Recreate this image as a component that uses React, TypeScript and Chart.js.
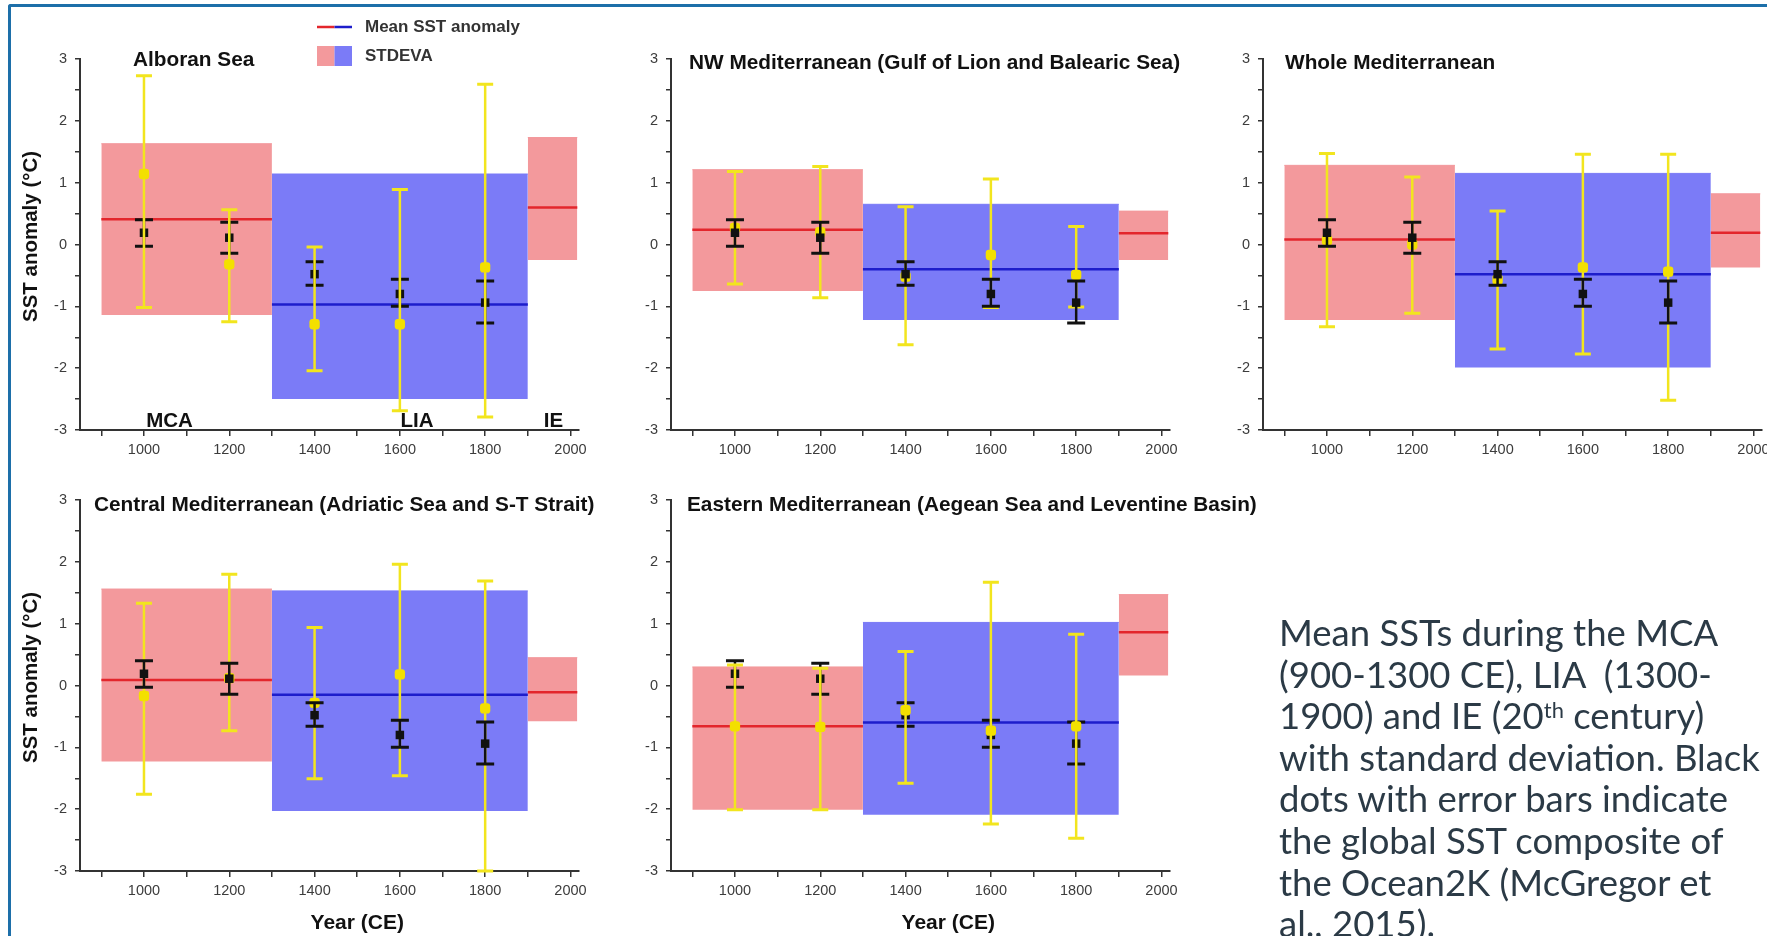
import React, { useEffect, useRef } from 'react';
import { Chart, registerables } from 'chart.js';

Chart.register(...registerables);

// ---------------- data ----------------
const SAMPLE_YEARS = [1000, 1200, 1400, 1600, 1800];
const PERIOD_NAMES = ['MCA', 'LIA', 'IE'];
const PERIOD_START = [900, 1300, 1900];
const PERIOD_END = [1300, 1900, 2016];
const PERIOD_LABEL_AT = [1060, 1640, 1960];

const X_TICKS = [900, 1000, 1100, 1200, 1300, 1400, 1500, 1600, 1700, 1800, 1900, 2000];
const Y_TICKS = [-3, -2.5, -2, -1.5, -1, -0.5, 0, 0.5, 1, 1.5, 2, 2.5, 3];

// Ocean2K global SST composite (black squares)
const GLOBAL_MEAN = [0.19, 0.11, -0.48, -0.8, -0.94];
const GLOBAL_LOW = [-0.03, -0.14, -0.66, -1.0, -1.27];
const GLOBAL_HIGH = [0.4, 0.36, -0.28, -0.56, -0.59];

// Alboran Sea
const ALBORAN_PERIOD_MEAN = [0.41, -0.97, 0.6];
const ALBORAN_PERIOD_HIGH = [1.63, 1.14, 1.73];
const ALBORAN_PERIOD_LOW = [-1.14, -2.5, -0.25];
const ALBORAN_MEAN = [1.14, -0.32, -1.29, -1.29, -0.37];
const ALBORAN_HIGH = [2.73, 0.56, -0.04, 0.89, 2.59];
const ALBORAN_LOW = [-1.02, -1.25, -2.04, -2.69, -2.79];

// NW Mediterranean
const NW_PERIOD_MEAN = [0.24, -0.4, 0.18];
const NW_PERIOD_HIGH = [1.21, 0.65, 0.54];
const NW_PERIOD_LOW = [-0.75, -1.22, -0.25];
const NW_MEAN = [0.27, 0.2, -0.52, -0.17, -0.49];
const NW_HIGH = [1.18, 1.26, 0.61, 1.06, 0.29];
const NW_LOW = [-0.64, -0.86, -1.62, -1.02, -1.01];

// Whole Mediterranean
const WHOLE_PERIOD_MEAN = [0.08, -0.48, 0.19];
const WHOLE_PERIOD_HIGH = [1.28, 1.15, 0.82];
const WHOLE_PERIOD_LOW = [-1.22, -1.99, -0.37];
const WHOLE_MEAN = [0.07, 0.0, -0.57, -0.37, -0.44];
const WHOLE_HIGH = [1.47, 1.09, 0.54, 1.46, 1.46];
const WHOLE_LOW = [-1.33, -1.11, -1.69, -1.77, -2.52];

// Central Mediterranean
const CENTRAL_PERIOD_MEAN = [0.09, -0.15, -0.11];
const CENTRAL_PERIOD_HIGH = [1.56, 1.53, 0.45];
const CENTRAL_PERIOD_LOW = [-1.23, -2.03, -0.58];
const CENTRAL_MEAN = [-0.17, 0.12, -0.28, 0.18, -0.37];
const CENTRAL_HIGH = [1.33, 1.8, 0.94, 1.96, 1.69];
const CENTRAL_LOW = [-1.76, -0.73, -1.51, -1.46, -3.0];

// Eastern Mediterranean
const EAST_PERIOD_MEAN = [-0.66, -0.6, 0.86];
const EAST_PERIOD_HIGH = [0.3, 1.02, 1.47];
const EAST_PERIOD_LOW = [-2.01, -2.09, 0.16];
const EAST_MEAN = [-0.66, -0.67, -0.4, -0.73, -0.66];
const EAST_HIGH = [0.33, 0.28, 0.55, 1.67, 0.83];
const EAST_LOW = [-2.01, -2.01, -1.58, -2.24, -2.47];

const CAPTION_LINES = [
  'Mean SSTs during the MCA',
  '(900-1300 CE), LIA  (1300-',
  '1900) and IE (20|th| century)',
  'with standard deviation. Black',
  'dots with error bars indicate',
  'the global SST composite of',
  'the Ocean2K (McGregor et',
  'al., 2015).',
];

// ---------------- style / layout ----------------
const FONT = "'Liberation Sans', Arial, Helvetica, sans-serif";
const X_MIN = 850;
const X_MAX = 2020;
const X_TITLE_AT = 1500;

const C = {
  pink: '#F3999C',
  blue: '#7B7BF7',
  red: '#E3262C',
  navy: '#1D1DCB',
  yellow: '#F2E51E',
  yellowMark: '#F3E000',
  black: '#111111',
  axis: '#333333',
  tick: '#3c3c3c',
  text: '#111111',
};

type PanelCfg = {
  key: string;
  title: string;
  cx: number; cy: number; cw: number; ch: number;
  L: number; T: number; R: number; B: number;
  titleDx: number; titleDy: number;
  yTitle: boolean; xTitle: boolean; legend: boolean; periodLabels: boolean;
  yellowOnTop: boolean;
  pMean: number[]; pHigh: number[]; pLow: number[];
  mean: number[]; high: number[]; low: number[];
};

const PANELS: PanelCfg[] = [
  {
    key: 'alb', title: 'Alboran Sea', cx: 0, cy: 0, cw: 595, ch: 465, L: 80, T: 59, R: 579, B: 430,
    titleDx: 53, titleDy: 1, yTitle: true, xTitle: false, legend: true, periodLabels: true, yellowOnTop: true,
    pMean: ALBORAN_PERIOD_MEAN, pHigh: ALBORAN_PERIOD_HIGH, pLow: ALBORAN_PERIOD_LOW,
    mean: ALBORAN_MEAN, high: ALBORAN_HIGH, low: ALBORAN_LOW,
  },
  {
    key: 'nw', title: 'NW Mediterranean (Gulf of Lion and Balearic Sea)', cx: 595, cy: 0, cw: 590, ch: 465,
    L: 671, T: 59, R: 1170, B: 430,
    titleDx: 18, titleDy: 4, yTitle: false, xTitle: false, legend: false, periodLabels: false, yellowOnTop: false,
    pMean: NW_PERIOD_MEAN, pHigh: NW_PERIOD_HIGH, pLow: NW_PERIOD_LOW,
    mean: NW_MEAN, high: NW_HIGH, low: NW_LOW,
  },
  {
    key: 'whole', title: 'Whole Mediterranean', cx: 1185, cy: 0, cw: 582, ch: 465,
    L: 1263, T: 59, R: 1762, B: 430,
    titleDx: 22, titleDy: 4, yTitle: false, xTitle: false, legend: false, periodLabels: false, yellowOnTop: false,
    pMean: WHOLE_PERIOD_MEAN, pHigh: WHOLE_PERIOD_HIGH, pLow: WHOLE_PERIOD_LOW,
    mean: WHOLE_MEAN, high: WHOLE_HIGH, low: WHOLE_LOW,
  },
  {
    key: 'cen', title: 'Central Mediterranean (Adriatic Sea and S-T Strait)', cx: 0, cy: 465, cw: 595, ch: 471,
    L: 80, T: 500, R: 579, B: 871,
    titleDx: 14, titleDy: 5, yTitle: true, xTitle: true, legend: false, periodLabels: false, yellowOnTop: false,
    pMean: CENTRAL_PERIOD_MEAN, pHigh: CENTRAL_PERIOD_HIGH, pLow: CENTRAL_PERIOD_LOW,
    mean: CENTRAL_MEAN, high: CENTRAL_HIGH, low: CENTRAL_LOW,
  },
  {
    key: 'east', title: 'Eastern Mediterranean (Aegean Sea and Leventine Basin)', cx: 595, cy: 465, cw: 700, ch: 471,
    L: 671, T: 500, R: 1170, B: 871,
    titleDx: 16, titleDy: 5, yTitle: false, xTitle: true, legend: false, periodLabels: false, yellowOnTop: true,
    pMean: EAST_PERIOD_MEAN, pHigh: EAST_PERIOD_HIGH, pLow: EAST_PERIOD_LOW,
    mean: EAST_MEAN, high: EAST_HIGH, low: EAST_LOW,
  },
];

// ---------------- plugins ----------------
const errorBarPlugin = {
  id: 'errorBars',
  beforeDatasetDraw(chart: any, args: any) {
    const ds: any = chart.data.datasets[args.index];
    if (!ds.errLow) return;
    const ys = chart.scales.y;
    const ctx = chart.ctx;
    ctx.save();
    ctx.strokeStyle = ds.errColor;
    ctx.lineCap = 'butt';
    args.meta.data.forEach((pt: any, i: number) => {
      const x = pt.x;
      const yl = ys.getPixelForValue(ds.errLow[i]);
      const yh = ys.getPixelForValue(ds.errHigh[i]);
      ctx.lineWidth = ds.errWidth;
      ctx.beginPath();
      ctx.moveTo(x, yl);
      ctx.lineTo(x, yh);
      ctx.stroke();
      ctx.lineWidth = ds.errCapWidth;
      ctx.beginPath();
      ctx.moveTo(x - ds.errCap, yl);
      ctx.lineTo(x + ds.errCap, yl);
      ctx.moveTo(x - ds.errCap, yh);
      ctx.lineTo(x + ds.errCap, yh);
      ctx.stroke();
    });
    ctx.restore();
  },
};

function decorPlugin(p: PanelCfg) {
  return {
    id: 'decor_' + p.key,
    afterDraw(chart: any) {
      const ctx = chart.ctx;
      const a = chart.chartArea;
      const xs = chart.scales.x;
      ctx.save();
      ctx.fillStyle = C.text;
      ctx.font = `bold 20.8px ${FONT}`;
      ctx.textAlign = 'left';
      ctx.textBaseline = 'middle';
      ctx.fillText(p.title, a.left + p.titleDx, a.top + p.titleDy);

      if (p.yTitle) {
        ctx.save();
        ctx.translate(31 - p.cx, (a.top + a.bottom) / 2 - 8);
        ctx.rotate(-Math.PI / 2);
        ctx.textAlign = 'center';
        ctx.textBaseline = 'middle';
        ctx.font = `bold 20.5px ${FONT}`;
        ctx.fillText('SST anomaly (\u00b0C)', 0, 0);
        ctx.restore();
      }

      if (p.periodLabels) {
        ctx.font = `bold 20.5px ${FONT}`;
        ctx.textAlign = 'center';
        ctx.textBaseline = 'alphabetic';
        PERIOD_NAMES.forEach((n, i) => {
          ctx.fillText(n, xs.getPixelForValue(PERIOD_LABEL_AT[i]), a.bottom - 3);
        });
      }
      if (p.xTitle) {
        ctx.font = `bold 21px ${FONT}`;
        ctx.textAlign = 'center';
        ctx.textBaseline = 'middle';
        ctx.fillText('Year (CE)', xs.getPixelForValue(X_TITLE_AT), 923 - p.cy);
      }
      if (p.legend) {
        const lx = 317 - p.cx;
        const lw = 35;
        const ly = 27 - p.cy;
        ctx.lineWidth = 2.5;
        ctx.strokeStyle = C.red;
        ctx.beginPath();
        ctx.moveTo(lx, ly);
        ctx.lineTo(lx + lw / 2, ly);
        ctx.stroke();
        ctx.strokeStyle = C.navy;
        ctx.beginPath();
        ctx.moveTo(lx + lw / 2, ly);
        ctx.lineTo(lx + lw, ly);
        ctx.stroke();
        ctx.fillStyle = C.pink;
        ctx.fillRect(lx, 46 - p.cy, lw / 2, 20);
        ctx.fillStyle = C.blue;
        ctx.fillRect(lx + lw / 2, 46 - p.cy, lw / 2, 20);
        ctx.fillStyle = '#333333';
        ctx.font = `bold 17px ${FONT}`;
        ctx.textAlign = 'left';
        ctx.textBaseline = 'middle';
        ctx.fillText('Mean SST anomaly', 365 - p.cx, ly);
        ctx.fillText('STDEVA', 365 - p.cx, 56 - p.cy);
      }
      ctx.restore();
    },
  };
}

// ---------------- chart config ----------------
function buildDatasets(p: PanelCfg) {
  const ds: any[] = [];
  for (let i = 0; i < PERIOD_NAMES.length; i++) {
    const col = i === 1 ? C.blue : C.pink;
    ds.push({
      label: 'STDEVA ' + PERIOD_NAMES[i],
      data: [
        { x: PERIOD_START[i], y: p.pHigh[i] },
        { x: PERIOD_END[i], y: p.pHigh[i] },
      ],
      fill: { value: p.pLow[i] },
      backgroundColor: col,
      borderColor: col,
      borderWidth: 1,
      pointRadius: 0,
      order: 10,
    });
  }
  for (let i = 0; i < PERIOD_NAMES.length; i++) {
    ds.push({
      label: 'Mean ' + PERIOD_NAMES[i],
      data: [
        { x: PERIOD_START[i], y: p.pMean[i] },
        { x: PERIOD_END[i], y: p.pMean[i] },
      ],
      fill: false,
      borderColor: i === 1 ? C.navy : C.red,
      borderWidth: 2.5,
      pointRadius: 0,
      order: 9,
    });
  }
  ds.push({
    label: 'Regional',
    data: SAMPLE_YEARS.map((x, i) => ({ x, y: p.mean[i] })),
    showLine: false,
    pointStyle: 'rectRounded',
    pointRadius: 6,
    pointBackgroundColor: C.yellowMark,
    pointBorderWidth: 0,
    errLow: p.low,
    errHigh: p.high,
    errColor: C.yellow,
    errWidth: 2.5,
    errCapWidth: 3,
    errCap: 8,
    order: p.yellowOnTop ? 1 : 2,
  });
  ds.push({
    label: 'Ocean2K',
    data: SAMPLE_YEARS.map((x, i) => ({ x, y: GLOBAL_MEAN[i] })),
    showLine: false,
    pointStyle: 'rect',
    pointRadius: 6,
    pointBackgroundColor: C.black,
    pointBorderWidth: 0,
    errLow: GLOBAL_LOW,
    errHigh: GLOBAL_HIGH,
    errColor: C.black,
    errWidth: 2.5,
    errCapWidth: 3,
    errCap: 9,
    order: p.yellowOnTop ? 2 : 1,
  });
  return ds;
}

function buildConfig(p: PanelCfg): any {
  return {
    type: 'line',
    data: { datasets: buildDatasets(p) },
    plugins: [errorBarPlugin, decorPlugin(p)],
    options: {
      responsive: false,
      animation: false,
      events: [],
      layout: {
        autoPadding: false,
        padding: { left: 0, top: p.T - p.cy, right: p.cx + p.cw - p.R, bottom: 0 },
      },
      plugins: {
        legend: { display: false },
        tooltip: { enabled: false },
        title: { display: false },
      },
      scales: {
        x: {
          type: 'linear',
          min: X_MIN,
          max: X_MAX,
          afterBuildTicks: (s: any) => {
            s.ticks = X_TICKS.map((v) => ({ value: v }));
          },
          afterFit: (s: any) => {
            s.height = p.cy + p.ch - p.B;
            s.paddingLeft = 0;
            s.paddingRight = 0;
          },
          grid: {
            display: true,
            drawOnChartArea: false,
            drawTicks: true,
            tickLength: 6,
            color: C.axis,
            lineWidth: 1.5,
          },
          border: { display: true, color: C.axis, width: 2 },
          ticks: {
            autoSkip: false,
            maxRotation: 0,
            minRotation: 0,
            padding: 5,
            color: C.tick,
            font: { family: FONT, size: 14.5 },
            callback: (v: number) => (v % 200 === 0 ? String(v) : ''),
          },
        },
        y: {
          type: 'linear',
          min: -3,
          max: 3,
          afterBuildTicks: (s: any) => {
            s.ticks = Y_TICKS.map((v) => ({ value: v }));
          },
          afterFit: (s: any) => {
            s.width = p.L - p.cx;
            s.paddingTop = 0;
            s.paddingBottom = 0;
          },
          grid: {
            display: true,
            drawOnChartArea: false,
            drawTicks: true,
            tickLength: 5,
            color: C.axis,
            lineWidth: 1.5,
          },
          border: { display: true, color: C.axis, width: 2 },
          ticks: {
            autoSkip: false,
            padding: 8,
            color: C.tick,
            font: { family: FONT, size: 14.5 },
            callback: (v: number) => (Number.isInteger(v) ? String(v) : ''),
          },
        },
      },
    },
  };
}

function Panel({ cfg }: { cfg: PanelCfg }) {
  const ref = useRef<HTMLCanvasElement | null>(null);
  useEffect(() => {
    if (!ref.current) return;
    const chart = new Chart(ref.current, buildConfig(cfg));
    return () => chart.destroy();
  }, [cfg]);
  return (
    <canvas
      ref={ref}
      width={cfg.cw}
      height={cfg.ch}
      style={{ position: 'absolute', left: cfg.cx, top: cfg.cy, width: cfg.cw, height: cfg.ch }}
    />
  );
}

function CaptionLine({ text }: { text: string }) {
  const parts = text.split('|');
  return (
    <div style={{ whiteSpace: 'pre', height: 41.6, lineHeight: '41.6px' }}>
      {parts.map((s, i) =>
        i % 2 === 1 ? (
          <sup key={i} style={{ fontSize: '60%', verticalAlign: 'top', lineHeight: '30px' }}>{s}</sup>
        ) : (
          <span key={i}>{s}</span>
        )
      )}
    </div>
  );
}

export default function App() {
  useEffect(() => {
    document.body.style.margin = '0';
    document.body.style.overflow = 'hidden';
  }, []);
  return (
    <div
      style={{
        position: 'absolute', left: 0, top: 0, width: 1767, height: 936,
        background: '#ffffff', overflow: 'hidden',
      }}
    >
      <div
        style={{
          position: 'absolute', left: 8, top: 4, width: 1800, height: 1000,
          borderTop: '3px solid #1D6FA9', borderLeft: '3px solid #1D6FA9',
          borderTopLeftRadius: 3,
        }}
      />
      {PANELS.map((p) => (
        <Panel key={p.key} cfg={p} />
      ))}
      <div
        style={{
          position: 'absolute', left: 1279, top: 612,
          fontFamily: "Lato, 'Open Sans', sans-serif", fontSize: 36.5, color: '#2B3A46',
        }}
      >
        {CAPTION_LINES.map((l, i) => (
          <CaptionLine key={i} text={l} />
        ))}
      </div>
    </div>
  );
}
